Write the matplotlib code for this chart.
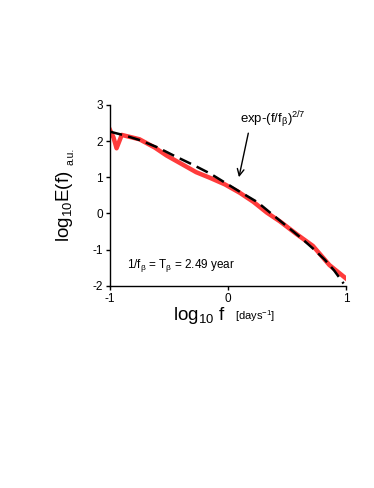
import matplotlib
matplotlib.use("Agg")
import matplotlib.pyplot as plt

plt.rcParams['font.family'] = ['Liberation Sans', 'DejaVu Sans']
plt.rcParams['mathtext.default'] = 'regular'
plt.rcParams['mathtext.fontset'] = 'custom'
plt.rcParams['mathtext.rm'] = 'Liberation Sans'
plt.rcParams['axes.unicode_minus'] = False

# measured spectrum (red)
x_data = [-1.0, -0.97, -0.944, -0.90, -0.75, -0.62, -0.52, -0.40, -0.27, -0.15,
          -0.025, 0.10, 0.215, 0.33, 0.44, 0.58, 0.72, 0.86, 1.0]
y_data = [2.31, 2.10, 1.80, 2.17, 2.05, 1.82, 1.60, 1.38, 1.14, 0.98,
          0.80, 0.57, 0.32, 0.02, -0.22, -0.57, -0.90, -1.43, -1.80]

# stretched exponential fit (black dashed)
x_fit = [-1.0, -0.88, -0.75, -0.60, -0.46, -0.30, -0.15, -0.025, 0.10, 0.25,
         0.38, 0.50, 0.62, 0.72, 0.82, 0.90, 0.98]
y_fit = [2.26, 2.16, 2.03, 1.83, 1.60, 1.35, 1.10, 0.85, 0.60, 0.31,
         -0.04, -0.36, -0.68, -0.97, -1.28, -1.58, -1.94]

x_ticks = [-1, 0, 1]
y_ticks = [-2, -1, 0, 1, 2, 3]

fig = plt.figure(figsize=(3.74, 4.88), dpi=100)
ax = fig.add_axes([0.294, 0.4146, 0.631, 0.3704])

ax.plot(x_data, y_data, color='#ff3b3b', lw=3.2, solid_joinstyle='round', zorder=2)
ax.plot(x_fit, y_fit, color='black', lw=1.8, dashes=(5, 2.5), zorder=3)

ax.set_xlim(-1, 1)
ax.set_ylim(-2, 3)
ax.set_xticks(x_ticks)
ax.set_yticks(y_ticks)
ax.tick_params(direction='out', length=3, width=1, labelsize=8.5, pad=2)
for s in ['top', 'right']:
    ax.spines[s].set_visible(False)
for s in ['left', 'bottom']:
    ax.spines[s].set_linewidth(1)

ax.annotate(r'exp-(f/f$_\beta$)$^{2/7}$', xy=(0.093, 1.0), xytext=(0.10, 2.58),
            fontsize=9.5, va='center', ha='left',
            arrowprops=dict(arrowstyle='->', color='black', lw=1,
                            shrinkA=0, shrinkB=0, mutation_scale=12,
                            relpos=(0.14, 0.0)))
ax.text(-0.856, -1.43, r'1/f$_\beta$ = T$_\beta$ = 2.49 year', fontsize=8.5,
        va='center', ha='left')

fig.text(0.172, 0.578, r'log$_{10}$E(f)', rotation=90, fontsize=13.5,
         ha='center', va='center')
fig.text(0.188, 0.68, 'a.u.', rotation=90, fontsize=7.5, ha='center', va='center')
fig.text(0.533, 0.354, r'log$_{10}$ f', fontsize=13.5, ha='center', va='center')
fig.text(0.682, 0.352, r'[days$^{-1}$]', fontsize=8, ha='center', va='center')

fig.savefig('out.png', dpi=100)
